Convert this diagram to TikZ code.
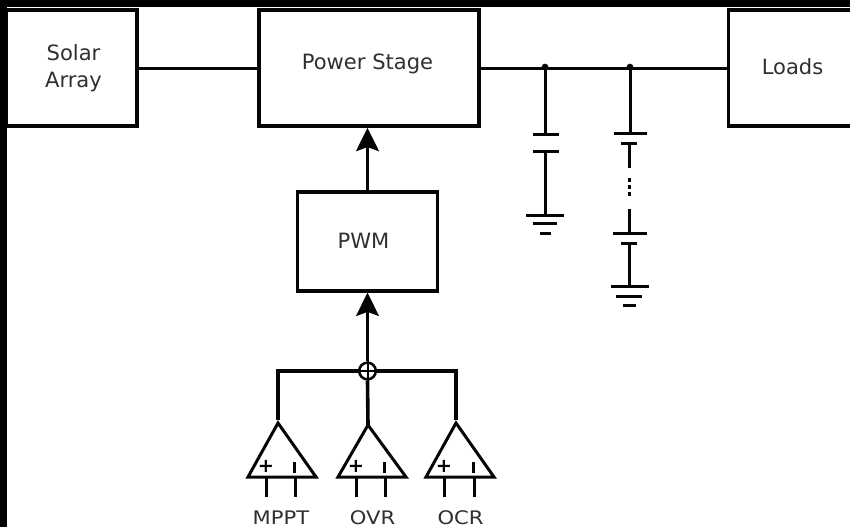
\documentclass[tikz,border=0pt]{standalone}
\usepackage{fontspec}
\setmainfont{DejaVu Sans}
\newfontfamily\widefont[FakeStretch=1.13]{DejaVu Sans}
\usetikzlibrary{arrows.meta}
\definecolor{ink}{HTML}{050505}
\definecolor{txt}{HTML}{303030}
\tikzset{
  x=0.75pt,y=-0.75pt,
  wire/.style={draw=ink,line width=2.25pt},
  shaft/.style={draw=ink,line width=2.7pt},
  thin wire/.style={draw=ink,line width=2.25pt},
  blockbox/.style={draw=ink,line width=2.6pt,fill=white,inner sep=0pt},
  blocktext/.style={font=\fontsize{15.8}{20.2}\selectfont,text=txt,align=center,inner sep=0pt},
  lab/.style={font=\widefont\fontsize{14}{16}\selectfont,text=txt,inner sep=0pt},
  sign/.style={font=\fontsize{14.5}{14}\selectfont\bfseries,text=ink,inner sep=0pt},
  amp/.style={draw=ink,line width=2.25pt,fill=white,line join=miter},
  tip/.style={-{Stealth[length=17.5pt,width=17pt,inset=3pt]}}
}
\begin{document}
\begin{tikzpicture}
\useasboundingbox (0,0) rectangle (850,527);
\fill[white] (0,0) rectangle (850,527);
% blocks
\node[blockbox,minimum width=98pt,minimum height=87pt] (solar) at (71.5,68) {};
\node[blockbox,minimum width=165pt,minimum height=87pt] (power) at (369,68) {};
\node[blockbox,minimum width=105pt,minimum height=74pt] (pwm) at (367.5,241.5) {};
\node[blockbox,minimum width=95pt,minimum height=87pt] (loads) at (792,68) {};
\fill[black] (0,0) rectangle (850,7);
\fill[black] (0,0) rectangle (7,527);
\node[blocktext] (solartext) at (73.5,68) {Solar\\Array};
\node[blocktext] (powertext) at (367.5,64) {Power Stage};
\node[blocktext] (pwmtext) at (363.5,241) {PWM};
\node[blocktext] (loadstext) at (792.5,66.5) {Loads};
% top wires
\draw[wire] (solar.east |- 0,68.5) -- (power.west |- 0,68.5);
\coordinate (j1) at (545,68.5);
\coordinate (j2) at (630,68.5);
\draw[wire] (power.east |- 0,68.5) -- (j1) -- (j2) -- (loads.west |- 0,68.5);
\fill[ink] (j1) ++(0,-1.5) circle[radius=2.5pt];
\fill[ink] (j2) ++(0,-1.5) circle[radius=2.5pt];
% capacitor 1
\coordinate (c1a) at (545,135);
\coordinate (c1b) at (545,152);
\coordinate (g1) at (545,216);
\draw[thin wire] (j1) -- (c1a);
\draw[thin wire] (533,135) -- (559,135);
\draw[thin wire] (533,152) -- (559,152);
\draw[thin wire] (c1b) -- (g1);
\draw[thin wire] (526,216) -- (564,216);
\draw[thin wire] (533,224) -- (557,224);
\draw[thin wire] (540,234) -- (551,234);
% capacitor string
\coordinate (c2a) at (630,134);
\draw[thin wire] (j2) -- (c2a);
\draw[thin wire] (614,134) -- (647,134);
\draw[thin wire] (621,144) -- (637,144);
\draw[thin wire] (629,144) -- (629,168);
\fill[ink] (627.5,178.5) rectangle (630.5,182.5);
\fill[ink] (627.5,185.5) rectangle (630.5,189.5);
\fill[ink] (627.5,192.5) rectangle (630.5,196.5);
\draw[thin wire] (629,209) -- (629,234);
\draw[thin wire] (613,234) -- (647,234);
\draw[thin wire] (621,244) -- (637,244);
\draw[thin wire] (629,244) -- (629,287);
\draw[thin wire] (611,287) -- (649,287);
\draw[thin wire] (616,297) -- (642,297);
\draw[thin wire] (623,306) -- (636,306);
% arrows
\draw[shaft,tip] (pwm.north) -- (power.south -| pwm.north);
\node[circle,draw=ink,line width=1.9pt,fill=white,minimum size=12.5pt,inner sep=0pt] (sum) at (367.5,371) {};
\draw[shaft,tip] (sum.north) -- (pwm.south);
\draw[line width=1.5pt,draw=ink] (sum.north) -- (sum.south) (sum.west) -- (sum.east);
% amplifiers
\coordinate (a1) at (278,423);
\coordinate (a2) at (368,425);
\coordinate (a3) at (456,423);
\draw[shaft] (sum.west) -- (278,371) -- (278,420);
\draw[shaft] (sum.east) -- (456,371) -- (456,420);
\draw[shaft] (sum.south) -- (a2);
\draw[amp] (a1) -- (248,477) -- (316,477) -- cycle;
\draw[amp] (a2) -- (338,477) -- (406,477) -- cycle;
\draw[amp] (a3) -- (426,477) -- (494,477) -- cycle;
\foreach \i/\a/\b in {1/266/295,2/356/385,3/444/474}{
  \draw[thin wire] (\a,478) -- (\a,497);
  \draw[thin wire] (\b,478) -- (\b,497);
  \node[sign] (p\i) at (\a,466.5) {+};
  \fill[ink] (\b-2.5,462) rectangle (\b+0.5,473);
}
\node[lab] (mppt) at (281,517.5) {MPPT};
\node[lab] (ovr) at (372.5,517.5) {OVR};
\node[lab] (ocr) at (460.5,517.5) {OCR};
\end{tikzpicture}
\end{document}
